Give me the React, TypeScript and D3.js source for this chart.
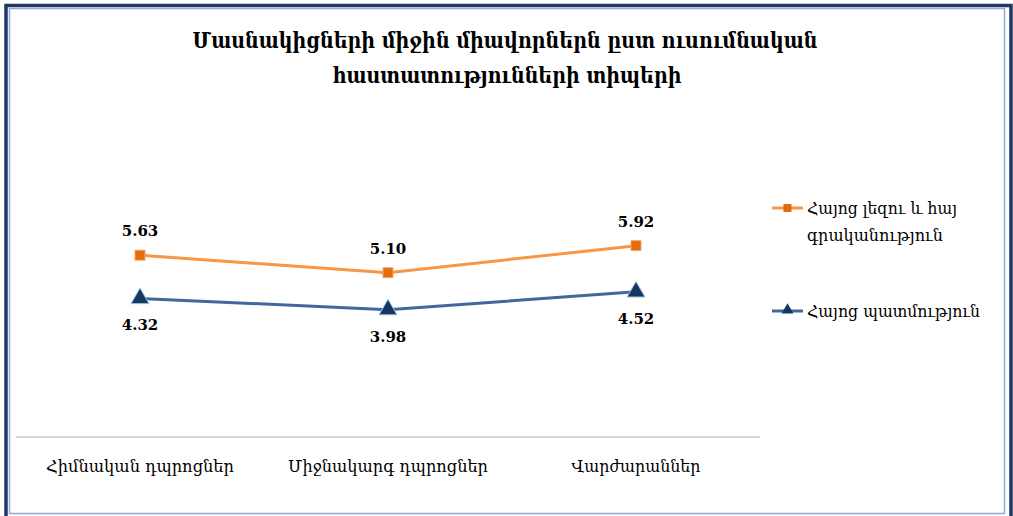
import { useMemo } from "react";
import * as d3 from "d3";

const categories = ["Հիմնական դպրոցներ", "Միջնակարգ դպրոցներ", "Վարժարաններ"];
const languageScores = [5.63, 5.1, 5.92];
const historyScores = [4.32, 3.98, 4.52];
const seriesNames = ["Հայոց լեզու և հայ", "գրականություն", "Հայոց պատմություն"];
const titleLines = [
  "Մասնակիցների միջին միավորներն ըստ ուսումնական",
  "հաստատությունների տիպերի",
];

const W = 1013;
const H = 516;
const serif = "'DejaVu Serif', 'Liberation Serif', serif";

export default function App() {
  const x = useMemo(
    () => d3.scaleBand().domain(categories).range([16, 760]),
    []
  );
  const y = useMemo(() => d3.scaleLinear().domain([0, 10]).range([441, 111]), []);
  const cx = (c: string) => (x(c) ?? 0) + x.bandwidth() / 2;

  const line = d3
    .line<number>()
    .x((_, i) => cx(categories[i]))
    .y((d) => y(d));

  const square = d3.symbol(d3.symbolSquare, 100)() as string;
  const triangle = d3.symbol(d3.symbolTriangle, 140)() as string;

  return (
    <svg
      width={W}
      height={H}
      style={{ position: "absolute", left: 0, top: 0, background: "#fff" }}
    >
      {/* frame */}
      <rect x={6} y={5.5} width={1005} height={520} fill="none" stroke="#1f3864" strokeWidth={3.5} />
      <rect x={9.5} y={8.5} width={995} height={505} fill="none" stroke="#8eaadb" strokeWidth={1.5} />

      {/* title */}
      <g fontFamily={serif} fontWeight="bold" fontSize={22} fill="#000" textAnchor="middle">
        <text x={505} y={48} textLength={625} lengthAdjust="spacingAndGlyphs">
          {titleLines[0]}
        </text>
        <text x={507} y={83} textLength={349} lengthAdjust="spacingAndGlyphs">
          {titleLines[1]}
        </text>
      </g>

      {/* category axis */}
      <line x1={16} x2={760} y1={437} y2={437} stroke="#d9d9d9" strokeWidth={2} />
      <g fontFamily={serif} fontSize={17} fill="#000" textAnchor="middle">
        {categories.map((c, i) => (
          <text
            key={c}
            x={cx(c)}
            y={472}
            textLength={[188, 200, 129][i]}
            lengthAdjust="spacingAndGlyphs"
          >
            {c}
          </text>
        ))}
      </g>

      {/* series */}
      <path d={line(languageScores) ?? ""} fill="none" stroke="#f79646" strokeWidth={3} />
      <path d={line(historyScores) ?? ""} fill="none" stroke="#41679b" strokeWidth={3} />

      {languageScores.map((v, i) => (
        <g key={"l" + i}>
          <path
            d={square}
            transform={`translate(${cx(categories[i])},${y(v)})`}
            fill="#e46c0a"
            stroke="#f8a66a"
            strokeWidth={1}
          />
          <text
            x={cx(categories[i])}
            y={y(v) - 19}
            textAnchor="middle"
            fontFamily={serif}
            fontWeight="bold"
            fontSize={15}
          >
            {v.toFixed(2)}
          </text>
        </g>
      ))}
      {historyScores.map((v, i) => (
        <g key={"h" + i}>
          <path
            d={triangle}
            transform={`translate(${cx(categories[i])},${y(v)})`}
            fill="#17375e"
            stroke="#9fc5e8"
            strokeWidth={1}
          />
          <text
            x={cx(categories[i])}
            y={y(v) + 32}
            textAnchor="middle"
            fontFamily={serif}
            fontWeight="bold"
            fontSize={15}
          >
            {v.toFixed(2)}
          </text>
        </g>
      ))}

      {/* legend */}
      <g fontFamily={serif} fontSize={17} fill="#000">
        <line x1={772} x2={803} y1={208} y2={208} stroke="#f79646" strokeWidth={3} />
        <path d={d3.symbol(d3.symbolSquare, 64)() as string} transform="translate(787.5,208)" fill="#e46c0a" />
        <text x={807} y={214} textLength={150} lengthAdjust="spacingAndGlyphs">
          {seriesNames[0]}
        </text>
        <text x={807} y={241} textLength={136} lengthAdjust="spacingAndGlyphs">
          {seriesNames[1]}
        </text>
        <line x1={772} x2={803} y1={311} y2={311} stroke="#41679b" strokeWidth={3} />
        <path d={d3.symbol(d3.symbolTriangle, 60)() as string} transform="translate(787.5,310)" fill="#17375e" />
        <text x={807} y={317} textLength={173} lengthAdjust="spacingAndGlyphs">
          {seriesNames[2]}
        </text>
      </g>
    </svg>
  );
}
